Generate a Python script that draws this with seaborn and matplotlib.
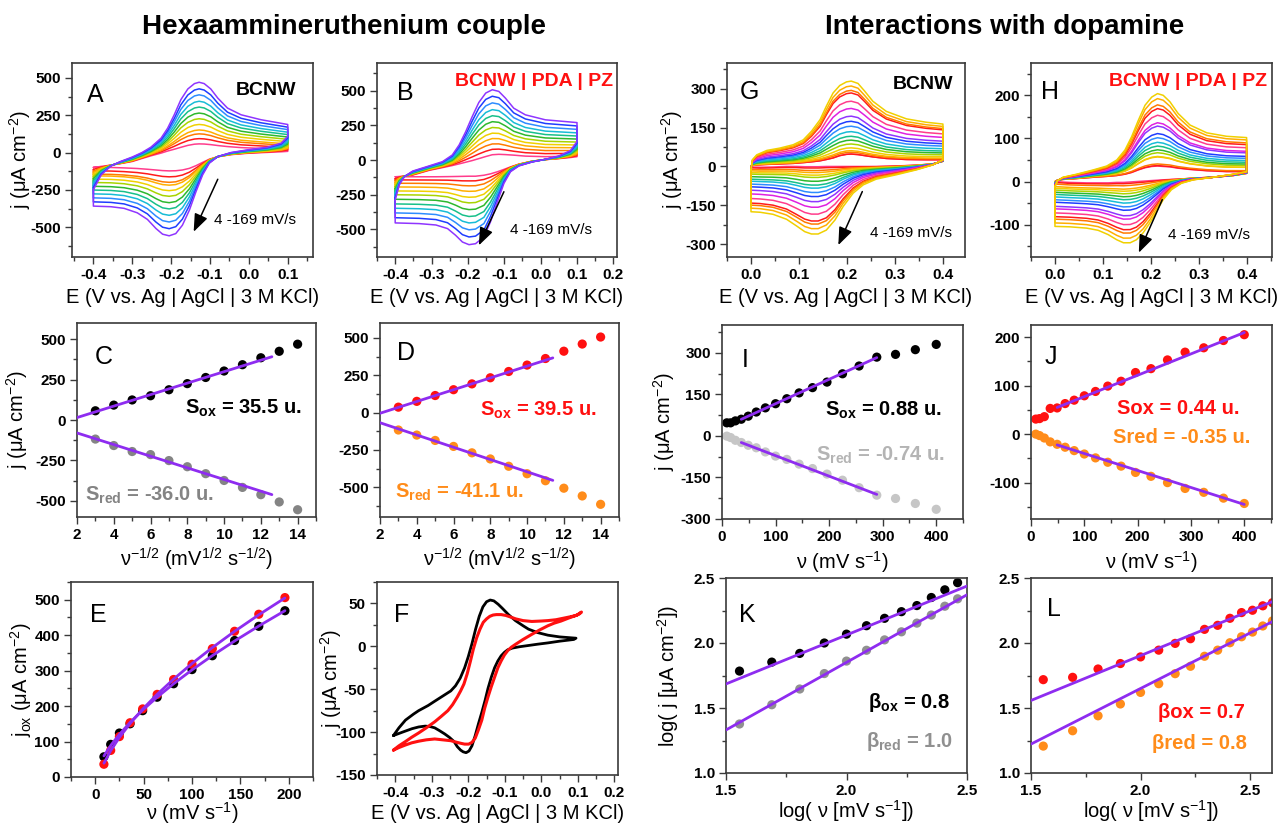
import numpy as np
import matplotlib
matplotlib.use('Agg')
import matplotlib.pyplot as plt
import seaborn as sns
from matplotlib.ticker import MultipleLocator, AutoMinorLocator, FormatStrFormatter

# ---------------- peak currents vs scan rate, hexaammineruthenium (C, D, E)
sqrt_nu = [3, 4, 5, 6, 7, 8, 9, 10, 11, 12, 13, 14]
nu_ru = [9, 16, 25, 36, 49, 64, 81, 100, 121, 144, 169, 196]
bcnw_ox = [57, 92, 124, 150, 187, 225, 263, 303, 342, 385, 425, 469]
bcnw_red = [-118, -158, -195, -214, -251, -289, -332, -374, -417, -462, -507, -555]
pz_ox = [36, 75, 114, 153, 192, 233, 275, 318, 362, 411, 459, 506]
pz_red = [-117, -151, -187, -227, -270, -311, -360, -410, -457, -507, -559, -615]

# ---------------- peak currents vs scan rate, dopamine (I, J)
nu_da = [9, 16, 25, 36, 49, 64, 81, 100, 121, 144, 169, 196, 225, 256, 289, 324, 361, 400]
da_bcnw_ox = [47, 47, 54, 60, 71, 86, 101, 116, 134, 155, 174, 194, 224, 252, 284, 294, 311, 330]
da_bcnw_red = [-1, -6, -16, -24, -34, -43, -58, -73, -85, -102, -118, -138, -160, -187, -214, -226, -244, -265]
da_pz_ox = [31, 32, 36, 53, 54, 63, 70, 79, 88, 99, 109, 127, 135, 153, 169, 178, 193, 205]
da_pz_red = [0, -3, -8, -16, -21, -27, -34, -41, -49, -58, -66, -79, -87, -100, -112, -120, -132, -143]

# ---------------- log-log (K, L)
logv_K = [1.556, 1.690, 1.806, 1.908, 2.0, 2.083, 2.158, 2.228, 2.292, 2.352, 2.408, 2.461]
logj_K_ox = [1.784, 1.853, 1.92, 2.0, 2.068, 2.133, 2.19, 2.241, 2.288, 2.35, 2.409, 2.464]
logj_K_red = [1.377, 1.525, 1.646, 1.765, 1.861, 1.944, 2.024, 2.086, 2.153, 2.215, 2.283, 2.34]
logv_L = [1.556, 1.690, 1.806, 1.908, 2.0, 2.083, 2.158, 2.228, 2.292, 2.352, 2.408, 2.461, 2.511, 2.558, 2.602]
logj_L_ox = [1.718, 1.736, 1.80, 1.842, 1.893, 1.945, 1.997, 2.033, 2.105, 2.136, 2.19, 2.234, 2.252, 2.286, 2.31]
logj_L_red = [1.207, 1.325, 1.44, 1.531, 1.62, 1.687, 1.764, 1.821, 1.898, 1.945, 2.002, 2.048, 2.084, 2.131, 2.17]

# ---------------- linear fits: (slope, intercept, x range)
fit_C_ox, fit_C_red = (35.5, -56, [2, 12.6]), (-36.0, -8, [2, 12.6])
fit_D_ox, fit_D_red = (39.5, -84, [2, 11.4]), (-41.1, 14, [2, 11.4])
fit_I_ox, fit_I_red = (0.88, 28, [36, 289]), (-0.74, 2.6, [36, 289])
fit_J_ox, fit_J_red = (0.44, 33.4, [49, 400]), (-0.35, -5, [49, 400])
fit_K_ox, fit_K_red = (0.753, 0.5555, [1.5, 2.5]), (1.04, -0.229, [1.5, 2.5])
fit_L_ox, fit_L_red = (0.69, 0.523, [1.5, 2.6]), (0.855, -0.06, [1.5, 2.6])

# ---------------- CV envelopes (largest / smallest scan rate), forward and reverse sweeps
E_fwd_A = [-0.40, -0.38, -0.355, -0.33, -0.30, -0.275, -0.252, -0.226, -0.209, -0.192, -0.175, -0.157,
           -0.140, -0.128, -0.115, -0.098, -0.080, -0.055, -0.020, 0.031, 0.10]
A_big_fwd = [-250, -150, -90, -60, -30, 0, 36, 96, 163, 253, 354, 426, 462, 471, 462, 426, 365, 298, 253, 220, 188]
A_small_fwd = [-100, -93, -84, -74, -60, -40, -22, -4, 10, 22, 35, 48, 56, 58, 57, 53, 47, 40, 33, 28, 20]
E_rev_A = [0.10, 0.083, 0.048, -0.003, -0.046, -0.08, -0.102, -0.119, -0.136, -0.153, -0.171, -0.188,
           -0.205, -0.222, -0.239, -0.261, -0.287, -0.321, -0.355, -0.40]
A_big_rev = [108, 63, 36, 18, 0, -27, -72, -150, -262, -386, -487, -543, -558, -547, -509, -448, -404, -374, -363, -359]
A_small_rev = [8, 5, 1, -5, -14, -28, -45, -66, -88, -106, -117, -122, -123, -121, -117, -112, -107, -103, -100, -99]

E_fwd_B = [-0.40, -0.389, -0.375, -0.352, -0.307, -0.27, -0.243, -0.224, -0.206, -0.188, -0.17, -0.151,
           -0.133, -0.115, -0.097, -0.074, -0.042, 0.013, 0.10]
B_big_fwd = [-290, -181, -121, -80, -43, -12, 36, 109, 205, 314, 415, 483, 507, 495, 447, 374, 326, 290, 270]
B_small_fwd = [-121, -119, -115, -109, -75, -55, -40, -28, -16, -4, 10, 25, 38, 41, 39, 35, 28, 24, 28]
E_rev_B = [0.10, 0.082, 0.05, 0.013, -0.023, -0.06, -0.083, -0.101, -0.119, -0.138, -0.156, -0.179,
           -0.197, -0.215, -0.234, -0.256, -0.288, -0.334, -0.40]
B_big_rev = [133, 68, 29, 5, -14, -43, -85, -169, -302, -447, -555, -604, -611, -592, -543, -495, -469, -459, -454]
B_small_rev = [24, 18, 10, 3, -8, -30, -50, -68, -85, -100, -110, -117, -117, -118, -119, -120, -121, -121, -121]

E_fwd_G = [0.0, 0.003, 0.012, 0.033, 0.06, 0.088, 0.109, 0.126, 0.144, 0.157, 0.171, 0.185, 0.199, 0.209,
           0.223, 0.237, 0.254, 0.282, 0.324, 0.365, 0.40]
G_big_fwd = [-13, 26, 45, 62, 71, 84, 103, 136, 181, 233, 284, 313, 327, 330, 321, 291, 252, 213, 184, 171, 164]
G_small_fwd = [0, 4, 6, 8, 10, 12, 15, 18, 22, 27, 33, 42, 47, 48, 46, 42, 37, 31, 27, 26, 26]
E_rev_G = [0.40, 0.379, 0.345, 0.303, 0.261, 0.234, 0.213, 0.192, 0.175, 0.157, 0.14, 0.126, 0.112, 0.095,
           0.074, 0.046, 0.019, 0.0]
G_big_rev = [26, 6, -13, -32, -49, -71, -103, -155, -207, -246, -261, -261, -252, -230, -204, -185, -177, -175]
G_small_rev = [20, 10, 5, 2, 0, 0, 0, 0, 0, 0, -1, -1, -1, 0, 0, -2, -3, -2]

E_fwd_H = [0.0, 0.005, 0.017, 0.045, 0.08, 0.108, 0.129, 0.146, 0.16, 0.174, 0.188, 0.202, 0.214, 0.226,
           0.24, 0.257, 0.282, 0.317, 0.358, 0.40]
H_big_fwd = [-12, 2, 10, 17, 27, 36, 50, 73, 104, 142, 177, 196, 204, 200, 185, 158, 131, 113, 105, 102]
H_small_fwd = [0, 3, 5, 7, 10, 12, 14, 17, 21, 27, 32, 35, 36, 35, 34, 31, 28, 25, 23, 23]
E_rev_H = [0.40, 0.372, 0.33, 0.289, 0.264, 0.243, 0.226, 0.212, 0.198, 0.184, 0.17, 0.157, 0.143, 0.129,
           0.111, 0.09, 0.066, 0.031, 0.0]
H_big_rev = [23, 17, 10, 4, -4, -19, -42, -69, -96, -119, -135, -142, -142, -135, -123, -113, -108, -105, -104]
H_small_rev = [19, 14, 10, 8, 6, 5, 4, 3, 2, 1, 0, -1, -2, -2, -3, -3, -3, -2, 0]

# ---------------- panel F: single CVs (closed loops)
F_black_E = [-0.405, -0.39, -0.372, -0.35, -0.336, -0.31, -0.292, -0.27, -0.248, -0.235, -0.222, -0.21, -0.2,
             -0.19, -0.18, -0.17, -0.16, -0.15, -0.14, -0.13, -0.118, -0.106, -0.09, -0.071, -0.05, -0.035,
             -0.01, 0.018, 0.05, 0.095,
             0.089, 0.05, 0.018, -0.01, -0.035, -0.06, -0.079, -0.092, -0.101, -0.11, -0.119, -0.128, -0.137,
             -0.146, -0.154, -0.163, -0.172, -0.181, -0.19, -0.198, -0.206, -0.214, -0.221, -0.23, -0.239,
             -0.252, -0.265, -0.28, -0.292, -0.305, -0.318, -0.336, -0.354, -0.38, -0.405]
F_black_j = [-104, -95, -86, -79, -75, -69, -64, -58, -52, -46, -37, -25, -12,
             3, 20, 35, 46, 52, 54, 53, 49, 44, 37, 30, 24, 20,
             16, 13, 11, 9.5,
             8, 6, 4, 2.5, 1, -0.5, -2, -4, -7, -11, -17, -25, -36,
             -49, -63, -77, -90, -104, -116, -122, -124, -123, -121, -117, -111,
             -106, -102, -98, -95, -93.5, -93, -94, -96, -100, -104]
F_red_E = [-0.405, -0.39, -0.372, -0.355, -0.336, -0.315, -0.292, -0.275, -0.256, -0.243, -0.23, -0.221,
           -0.212, -0.203, -0.194, -0.186, -0.177, -0.168, -0.159, -0.15, -0.141, -0.132, -0.123, -0.11,
           -0.097, -0.083, -0.07, -0.05, -0.026, 0.0, 0.018, 0.04, 0.063, 0.08, 0.095, 0.105, 0.11,
           0.098, 0.075, 0.054, 0.035, 0.018, -0.005, -0.026, -0.05, -0.07, -0.082, -0.092, -0.101, -0.11,
           -0.119, -0.128, -0.137, -0.146, -0.155, -0.163, -0.172, -0.181, -0.19, -0.199, -0.21, -0.221,
           -0.235, -0.248, -0.27, -0.292, -0.315, -0.336, -0.355, -0.372, -0.39, -0.405]
F_red_j = [-121, -116, -111, -106, -101, -95, -88, -82, -75, -68, -59, -52,
           -44, -32, -17, -3, 10, 20, 28, 32, 35, 36.5, 37, 37,
           36, 34, 32, 30, 29, 29.5, 30, 31, 33, 34.5, 36, 38, 40,
           36.5, 33, 29.5, 27, 24, 19, 14, 8, 2.5, -1, -5, -10, -17,
           -25, -36, -47, -59, -72, -86, -97, -107, -112, -114, -114, -113,
           -111.5, -110, -109, -108, -109, -110.6, -112.5, -115, -118, -121]

# ---------------- style
PURPLE = '#8e2cf0'
RED = '#ff1010'
ORANGE = '#ff8c1a'
GRAY = '#848484'
LIGHT = '#c6c6c6'
FRAME = '#3a3a3a'
rainbow = ['#ff3c8c', '#ff1a1a', '#ff7a00', '#ffae00', '#f0d000', '#a8d400', '#2eb82e',
           '#17c08a', '#17bcd6', '#2d8cff', '#1f3dff', '#8f35ff', '#e020e0']
E_LABEL = 'E (V vs. Ag | AgCl | 3 M KCl)'
J_LABEL = 'j (μA cm$^{-2}$)'

sns.set_theme(style='white')
plt.rcParams['font.family'] = ['Liberation Sans', 'DejaVu Sans']
plt.rcParams['mathtext.fontset'] = 'custom'
plt.rcParams['mathtext.rm'] = 'Liberation Sans'
plt.rcParams['mathtext.it'] = 'Liberation Sans:italic'
plt.rcParams['mathtext.bf'] = 'Liberation Sans:bold'
plt.rcParams['mathtext.default'] = 'regular'
plt.rcParams['axes.unicode_minus'] = False
plt.rcParams['text.color'] = 'black'
plt.rcParams['axes.labelcolor'] = 'black'

W, H = 1281, 826
fig = plt.figure(figsize=(W / 100, H / 100), dpi=100)


def add_ax(l, r, t, b):
    return fig.add_axes([l / W, 1 - b / H, (r - l) / W, (b - t) / H])


def frame(ax, xlim, ylim, xstep, ystep, xfmt=None, yfmt=None):
    ax.set_xlim(*xlim)
    ax.set_ylim(*ylim)
    ax.xaxis.set_major_locator(MultipleLocator(xstep))
    ax.yaxis.set_major_locator(MultipleLocator(ystep))
    ax.xaxis.set_minor_locator(AutoMinorLocator(2))
    ax.yaxis.set_minor_locator(AutoMinorLocator(2))
    if xfmt:
        ax.xaxis.set_major_formatter(FormatStrFormatter(xfmt))
    if yfmt:
        ax.yaxis.set_major_formatter(FormatStrFormatter(yfmt))
    ax.tick_params(which='both', direction='out', bottom=True, left=True, top=False, right=False,
                   color=FRAME, labelcolor='black', width=1.0)
    ax.tick_params(which='major', length=5, labelsize=11, pad=3)
    ax.tick_params(which='minor', length=3)
    for s in ax.spines.values():
        s.set_color(FRAME)
        s.set_linewidth(1.2)
    ax.set_xlabel('')
    ax.set_ylabel('')


def labels(ax, xlab, xy, ylab=None, yx=None):
    ax.set_xlabel(xlab, fontsize=14.5)
    ax.xaxis.label.set_verticalalignment('center')
    ax.xaxis.set_label_coords(0.5, xy)
    if ylab:
        ax.set_ylabel(ylab, fontsize=14.5)
        ax.yaxis.label.set_verticalalignment('center')
        ax.yaxis.set_label_coords(yx, 0.5)


def letter(ax, s, x, y):
    ax.text(x, y, s, transform=ax.transAxes, fontsize=18, ha='left', va='center')


def note(ax, s, x, y, color, ha='right', size=14.5):
    ax.text(x, y, s, transform=ax.transAxes, fontsize=size, fontweight='bold', ha=ha, va='center', color=color)


def cv_family(ax, e_fwd, big_fwd, small_fwd, e_rev, big_rev, small_rev, ox, red):
    # each sweep lies between the slowest and fastest CV, placed by its own peak currents
    ox, red = np.asarray(ox, float), np.asarray(red, float)
    big_fwd, small_fwd = np.asarray(big_fwd, float), np.asarray(small_fwd, float)
    big_rev, small_rev = np.asarray(big_rev, float), np.asarray(small_rev, float)
    w_ox = (ox - ox.min()) / (ox.max() - ox.min())
    w_red = (red - red.max()) / (red.min() - red.max())
    e = np.concatenate([e_fwd, e_rev, e_fwd[:1]])
    for i in range(len(ox)):
        up = small_fwd + (big_fwd - small_fwd) * w_ox[i]
        dn = small_rev + (big_rev - small_rev) * w_red[i]
        j = np.concatenate([up, dn, up[:1]])
        sns.lineplot(x=e, y=j, sort=False, estimator=None, color=rainbow[i % len(rainbow)],
                     lw=1.1, ax=ax, legend=False)


def arrow(ax, start, end, text, tpos):
    ax.annotate('', xy=end, xytext=start,
                arrowprops=dict(arrowstyle='-|>,head_length=0.9,head_width=0.35', color='black',
                                lw=1.1, shrinkA=0, shrinkB=0))
    ax.text(tpos[0], tpos[1], text, fontsize=11, ha='left', va='center')


def points(ax, x, y, color):
    sns.scatterplot(x=x, y=y, color=color, s=44, edgecolor='none', ax=ax, zorder=2, legend=False)


def fitline(ax, fit):
    slope, icpt, rng = fit
    xs = np.asarray(rng, float)
    sns.lineplot(x=xs, y=icpt + slope * xs, color=PURPLE, lw=2, ax=ax, zorder=3, legend=False)


def power_fit(x, y):
    # least squares j = c + a * nu**b, b scanned
    x, y = np.asarray(x, float), np.asarray(y, float)
    best = None
    for b in np.arange(0.2, 1.5, 0.002):
        X = np.column_stack([np.ones_like(x), x ** b])
        coef, *_ = np.linalg.lstsq(X, y, rcond=None)
        sse = ((X @ coef - y) ** 2).sum()
        if best is None or sse < best[0]:
            best = (sse, coef, b)
    return best[1][0] + best[1][1] * x ** best[2]


# ---------------- row 1: CVs
axA = add_ax(72, 313, 63, 257)
cv_family(axA, E_fwd_A, A_big_fwd, A_small_fwd, E_rev_A, A_big_rev, A_small_rev, bcnw_ox, bcnw_red)
frame(axA, (-0.455, 0.165), (-700, 600), 0.1, 250, xfmt='%.1f')
arrow(axA, (-0.080, -179), (-0.142, -531), '4 -169 mV/s', (-0.089, -453))
labels(axA, E_LABEL, -0.21, J_LABEL, -0.215)
letter(axA, 'A', 0.06, 0.835)
note(axA, 'BCNW', 0.93, 0.86, 'black', size=14)

axB = add_ax(377, 617, 63, 257)
cv_family(axB, E_fwd_B, B_big_fwd, B_small_fwd, E_rev_B, B_big_rev, B_small_rev, pz_ox, pz_red)
frame(axB, (-0.45, 0.21), (-700, 700), 0.1, 250, xfmt='%.1f')
arrow(axB, (-0.101, -229), (-0.170, -616), '4 -169 mV/s', (-0.084, -507))
labels(axB, E_LABEL, -0.21)
letter(axB, 'B', 0.085, 0.844)
note(axB, 'BCNW | PDA | PZ', 0.985, 0.904, RED, size=14)

axG = add_ax(727, 965, 63, 257)
cv_family(axG, E_fwd_G, G_big_fwd, G_small_fwd, E_rev_G, G_big_rev, G_small_rev, da_bcnw_ox, da_bcnw_red)
frame(axG, (-0.05, 0.446), (-350, 400), 0.1, 150, xfmt='%.1f')
arrow(axG, (0.232, -97), (0.182, -304), '4 -169 mV/s', (0.247, -259))
labels(axG, E_LABEL, -0.21, J_LABEL, -0.232)
letter(axG, 'G', 0.055, 0.852)
note(axG, 'BCNW', 0.95, 0.887, 'black', size=14)

axH = add_ax(1031, 1272, 63, 257)
cv_family(axH, E_fwd_H, H_big_fwd, H_small_fwd, E_rev_H, H_big_rev, H_small_rev, da_pz_ox, da_pz_red)
frame(axH, (-0.05, 0.453), (-175, 275), 0.1, 100, xfmt='%.1f')
arrow(axH, (0.224, -42), (0.175, -165), '4 -169 mV/s', (0.2365, -125))
labels(axH, E_LABEL, -0.21)
letter(axH, 'H', 0.041, 0.852)
note(axH, 'BCNW | PDA | PZ', 0.98, 0.904, RED, size=14)

# ---------------- row 2: peak current vs sqrt(scan rate) and scan rate
NU_HALF = 'ν$^{-1/2}$ (mV$^{1/2}$ s$^{-1/2}$)'
NU = 'ν (mV s$^{-1}$)'

axC = add_ax(77, 316, 323, 517)
points(axC, sqrt_nu, bcnw_ox, 'black')
points(axC, sqrt_nu, bcnw_red, GRAY)
fitline(axC, fit_C_ox)
fitline(axC, fit_C_red)
frame(axC, (2, 15), (-600, 600), 2, 250)
labels(axC, NU_HALF, -0.22, J_LABEL, -0.25)
letter(axC, 'C', 0.075, 0.826)
note(axC, r'$\mathbf{S_{ox}}$ = 35.5 u.', 0.94, 0.562, 'black')
note(axC, r'$\mathbf{S_{red}}$ = -36.0 u.', 0.035, 0.113, GRAY, ha='left')

axD = add_ax(380, 619, 323, 517)
points(axD, sqrt_nu, pz_ox, RED)
points(axD, sqrt_nu, pz_red, ORANGE)
fitline(axD, fit_D_ox)
fitline(axD, fit_D_red)
frame(axD, (2, 15), (-700, 600), 2, 250)
labels(axD, NU_HALF, -0.22)
letter(axD, 'D', 0.071, 0.845)
note(axD, r'$\mathbf{S_{ox}}$ = 39.5 u.', 0.908, 0.552, RED)
note(axD, r'$\mathbf{S_{red}}$ = -41.1 u.', 0.063, 0.125, ORANGE, ha='left')

axI = add_ax(722, 963, 325, 519)
points(axI, nu_da, da_bcnw_ox, 'black')
points(axI, nu_da, da_bcnw_red, LIGHT)
fitline(axI, fit_I_ox)
fitline(axI, fit_I_red)
frame(axI, (0, 450), (-300, 400), 100, 150)
labels(axI, NU, -0.22, J_LABEL, -0.24)
letter(axI, 'I', 0.082, 0.82)
note(axI, r'$\mathbf{S_{ox}}$ = 0.88 u.', 0.913, 0.562, 'black')
note(axI, r'$\mathbf{S_{red}}$ = -0.74 u.', 0.925, 0.33, '#b4b4b4')

axJ = add_ax(1031, 1272, 325, 519)
points(axJ, nu_da, da_pz_ox, RED)
points(axJ, nu_da, da_pz_red, ORANGE)
fitline(axJ, fit_J_ox)
fitline(axJ, fit_J_red)
frame(axJ, (0, 452), (-175, 225), 100, 100)
labels(axJ, NU, -0.22)
letter(axJ, 'J', 0.058, 0.837)
note(axJ, 'Sox = 0.44 u.', 0.867, 0.572, RED)
note(axJ, 'Sred = -0.35 u.', 0.909, 0.42, ORANGE)

# ---------------- row 3
axE = add_ax(71, 313, 582, 777)
points(axE, nu_ru, bcnw_ox, 'black')
points(axE, nu_ru, pz_ox, RED)
for series in (bcnw_ox, pz_ox):
    sns.lineplot(x=nu_ru, y=power_fit(nu_ru, series), color=PURPLE, lw=2, ax=axE, zorder=3, legend=False)
frame(axE, (-25, 225), (0, 550), 50, 100)
labels(axE, NU, -0.185, 'j$_{ox}$ (μA cm$^{-2}$)', -0.205)
letter(axE, 'E', 0.079, 0.83)

axF = add_ax(377, 618, 582, 775)
sns.lineplot(x=F_black_E, y=F_black_j, sort=False, estimator=None, color='black', lw=2, ax=axF, legend=False)
sns.lineplot(x=F_red_E, y=F_red_j, sort=False, estimator=None, color=RED, lw=2.2, ax=axF, legend=False)
frame(axF, (-0.45, 0.21), (-150, 75), 0.1, 50, xfmt='%.1f')
labels(axF, E_LABEL, -0.2, J_LABEL, -0.19)
letter(axF, 'F', 0.07, 0.83)

LOG_NU = 'log( ν [mV s$^{-1}$])'
axK = add_ax(726, 967, 578, 773)
points(axK, logv_K, logj_K_ox, 'black')
points(axK, logv_K, logj_K_red, '#909090')
fitline(axK, fit_K_ox)
fitline(axK, fit_K_red)
frame(axK, (1.5, 2.5), (1.0, 2.5), 0.5, 0.5, xfmt='%.1f', yfmt='%.1f')
labels(axK, LOG_NU, -0.195, 'log( j [μA cm$^{-2}$])', -0.24)
letter(axK, 'K', 0.054, 0.81)
note(axK, r'$\mathbf{β_{ox}}$ = 0.8', 0.93, 0.364, 'black')
note(axK, r'$\mathbf{β_{red}}$ = 1.0', 0.94, 0.16, '#909090')

axL = add_ax(1031, 1272, 578, 773)
points(axL, logv_L, logj_L_ox, RED)
points(axL, logv_L, logj_L_red, ORANGE)
fitline(axL, fit_L_ox)
fitline(axL, fit_L_red)
frame(axL, (1.5, 2.6), (1.0, 2.5), 0.5, 0.5, xfmt='%.1f', yfmt='%.1f')
labels(axL, LOG_NU, -0.195)
letter(axL, 'L', 0.066, 0.84)
note(axL, 'βox = 0.7', 0.888, 0.31, RED)
note(axL, 'βred = 0.8', 0.896, 0.15, ORANGE)

# ---------------- titles
fig.text(0.2685, 0.967, 'Hexaammineruthenium couple', ha='center', va='center', fontsize=20, fontweight='bold')
fig.text(0.784, 0.967, 'Interactions with dopamine', ha='center', va='center', fontsize=20, fontweight='bold')

for ax in fig.axes:
    plt.setp(ax.get_xticklabels() + ax.get_yticklabels(), fontweight='bold')

fig.savefig('out.png', dpi=100)
plt.close(fig)
